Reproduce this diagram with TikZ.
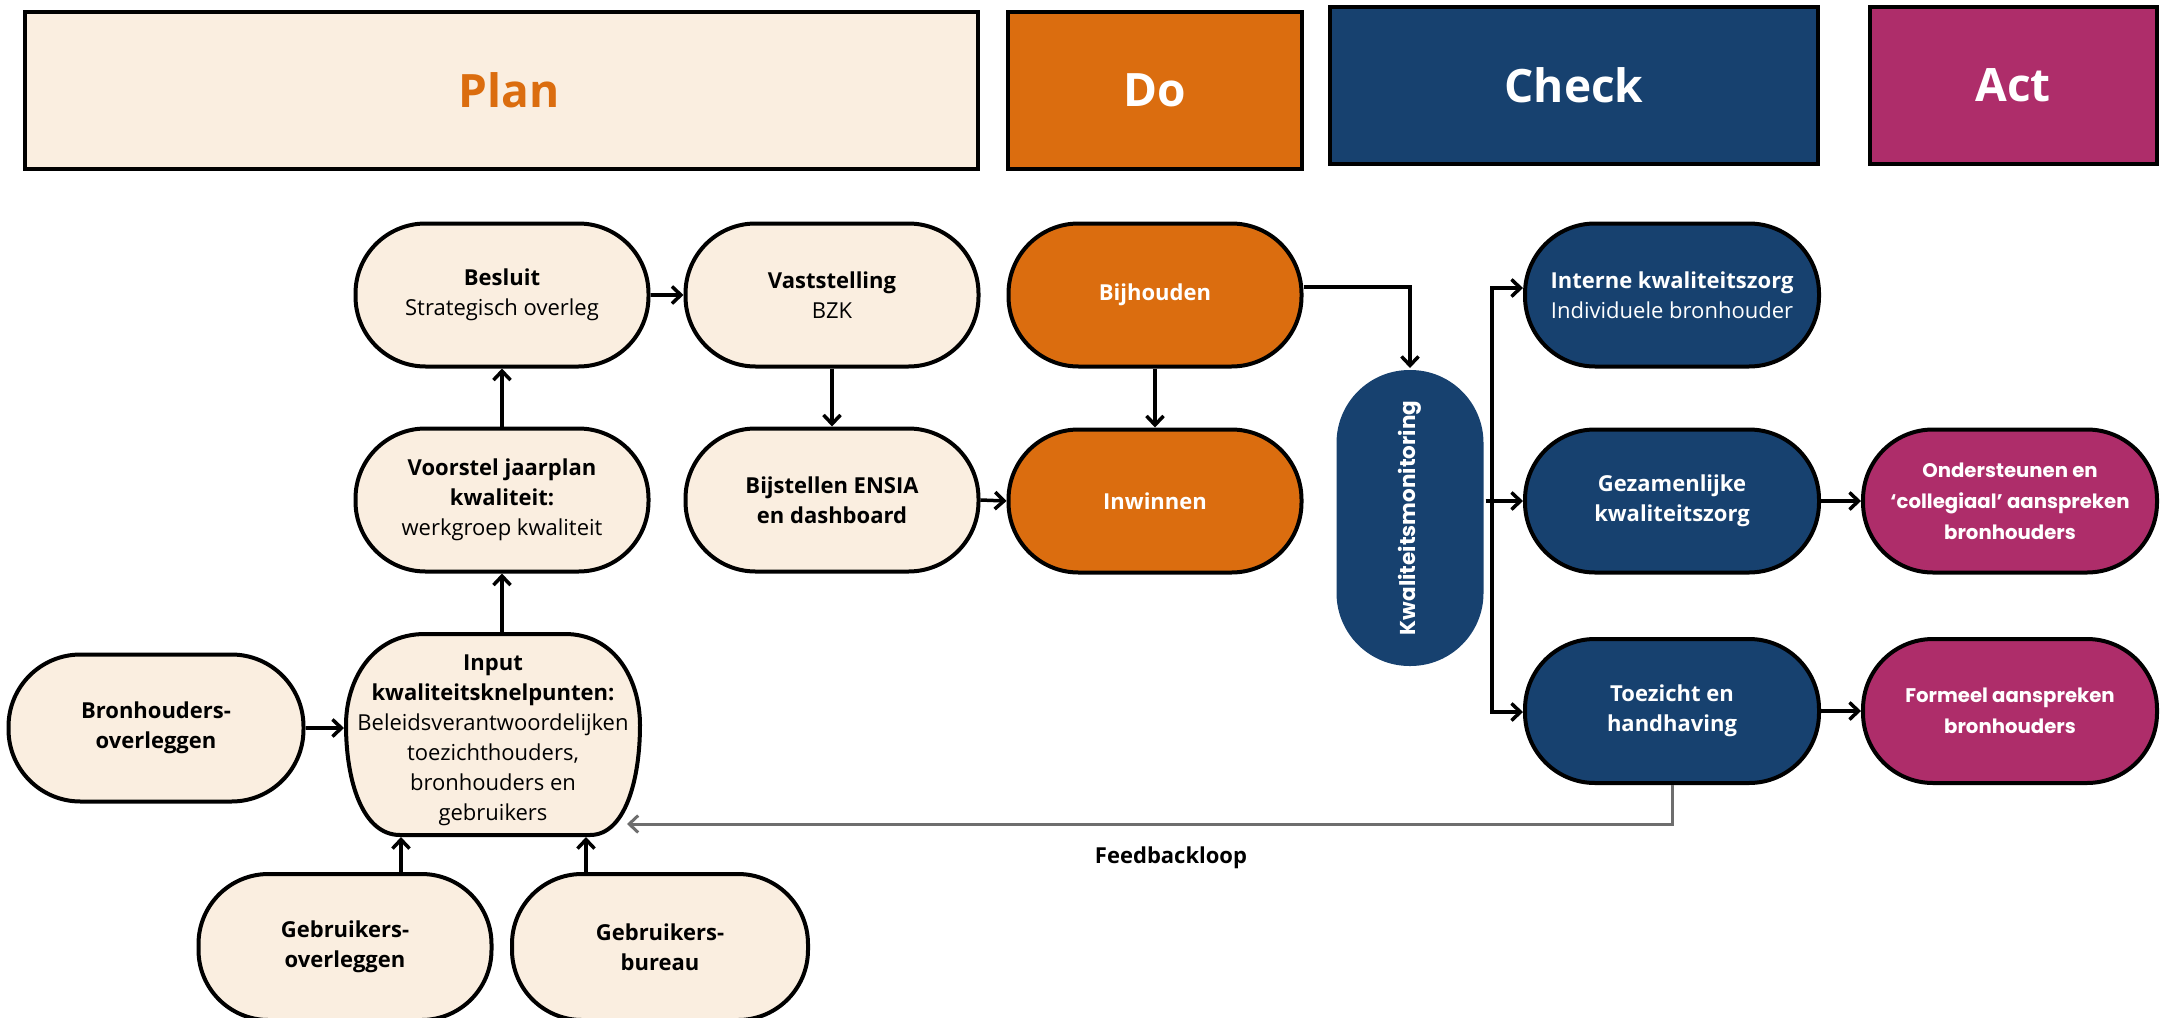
\documentclass[tikz,border=0pt]{standalone}
\usepackage{fontspec}
\setmainfont{Open Sans}
\newfontfamily\poppins{Poppins}
\usepackage{graphicx}
\usetikzlibrary{arrows.meta,calc}
\definecolor{cream}{HTML}{FAEEE0}
\definecolor{dorange}{HTML}{DB6D0F}
\definecolor{dblue}{HTML}{17416F}
\definecolor{mag}{HTML}{AE2D6A}
\definecolor{fbgray}{HTML}{6E6E6E}
\newcommand\nf{\fontsize{22pt}{30pt}\selectfont}
\newcommand\pf{\poppins\bfseries\fontsize{19.7pt}{31pt}\selectfont}
\begin{document}
\begin{tikzpicture}[x=1pt,y=-1pt,
 hdr/.style={draw=black,line width=4pt,inner sep=0pt,minimum height=157pt,font=\bfseries\fontsize{46pt}{50pt}\selectfont},
 pill/.style={draw=black,line width=4pt,rounded corners=70pt,minimum width=293pt,minimum height=143pt,inner sep=0pt,align=center,font=\nf},
 creamp/.style={pill,fill=cream,text=black},
 orangep/.style={pill,fill=dorange,text=white},
 bluep/.style={pill,fill=dblue,text=white},
 magp/.style={pill,fill=mag,text=white,font=\pf},
 arr/.style={line width=3.5pt,-{Straight Barb[length=9pt,width=17pt]}},
 fbarr/.style={draw=fbgray,line width=3pt,-{Straight Barb[length=9pt,width=17pt]}},
]
\useasboundingbox (0,0) rectangle (2165,1017);
\clip (0,0) rectangle (2165,1017);

% header
\node[hdr,fill=cream,text=dorange,minimum width=953pt] (hplan) at (501,90) {\hspace*{16pt}Plan};
\node[hdr,fill=dorange,text=white,minimum width=294pt] (hdo) at (1155,90) {Do};
\node[hdr,fill=dblue,text=white,minimum width=488pt] (hcheck) at (1574,85) {Check};
\node[hdr,fill=mag,text=white,minimum width=287pt] (hact) at (2013,85) {Act};

% plan nodes
\node[creamp] (besluit) at (502,295) {\textbf{Besluit}\\Strategisch overleg};
\node[creamp] (vast) at (832,295) {\textbf{Vaststelling}\\BZK};
\node[creamp] (voorstel) at (502,500) {\textbf{Voorstel jaarplan}\\\textbf{kwaliteit:}\\werkgroep kwaliteit};
\node[creamp] (bijst) at (832,500) {\textbf{Bijstellen ENSIA}\\\textbf{en dashboard}};
\node[creamp,minimum width=295pt,minimum height=147pt,rounded corners=72pt] (bron) at (156,728) {\textbf{Bronhouders-}\\\textbf{overleggen}};
\node[creamp,minimum height=146pt] (gebo) at (345,947) {\textbf{Gebruikers-}\\\textbf{overleggen}};
\node[creamp,minimum width=296pt,minimum height=146pt] (gebb) at (660,947) {\textbf{Gebruikers-}\\\textbf{bureau}};

% input (custom shape)
\draw[line width=4pt,fill=cream] (425,634) -- (565,634)
  .. controls (615,634) and (640,680) .. (640,725)
  .. controls (640,780) and (625,835) .. (590,835) -- (400,835)
  .. controls (362,835) and (346,780) .. (346,725)
  .. controls (346,680) and (372,634) .. (425,634) -- cycle;
\node[inner sep=0pt,outer sep=2pt,minimum width=294pt,minimum height=201pt] (input) at (493,734.5) {};
\node[inner sep=0pt,align=center,font=\nf] (inputtxt) at (493,740)
  {\textbf{Input}\\\textbf{kwaliteitsknelpunten:}\\Beleidsverantwoordelijken\\toezichthouders,\\bronhouders en\\gebruikers};

% do nodes
\node[orangep] (bijh) at (1155,295) {\textbf{Bijhouden}};
\node[orangep] (inw) at (1155,501) {\textbf{Inwinnen}};

% check nodes
\node[pill,draw=none,fill=dblue,text=white,minimum width=147pt,minimum height=296pt,rounded corners=73pt,font=\poppins\bfseries\fontsize{21.5pt}{26pt}\selectfont] (mon) at (1410,518) {\rotatebox{90}{Kwaliteitsmonitoring}};
\node[bluep,minimum width=294pt] (interne) at (1672,295) {\textbf{Interne kwaliteitszorg}\\Individuele bronhouder};
\node[bluep,minimum width=294pt] (gez) at (1672,501) {\textbf{Gezamenlijke}\\\textbf{kwaliteitszorg}};
\node[bluep,minimum width=294pt,minimum height=144pt] (toez) at (1672,711) {\textbf{Toezicht en}\\\textbf{handhaving}};

% act nodes
\node[magp,minimum width=294pt] (ond) at (2010,501) {Ondersteunen en\\‘collegiaal’ aanspreken\\bronhouders};
\node[magp,minimum width=294pt,minimum height=144pt] (form) at (2010,711) {Formeel aanspreken\\bronhouders};

% connectors
\draw[arr] (input.north -| voorstel.south) -- (voorstel.south);
\draw[arr] (voorstel.north) -- (besluit.south);
\draw[arr] (besluit.east) -- (vast.west);
\draw[arr] (vast.south) -- (bijst.north);
\draw[arr] (bijst.east) -- (inw.west);
\draw[arr] (bijh.south) -- (inw.north);
\draw[arr] ([yshift=8pt]bijh.east) -| (mon.north);
\coordinate (busT) at (1492,288);
\coordinate (busB) at (1492,712);
\draw[arr] (busB) |- (interne.west |- busT);
\draw[arr] (busT) |- (toez.west |- busB);
\draw[arr] (mon.east |- gez.west) -- (gez.west);
\draw[arr] (gez.east) -- (ond.west);
\draw[arr] (toez.east) -- (form.west);
\draw[arr] (bron.east) -- (bron.east -| input.west);
\draw[arr] ([xshift=56pt]gebo.north) -- ([xshift=56pt]gebo.north |- input.south);
\draw[arr] ([xshift=-74pt]gebb.north) -- ([xshift=-74pt]gebb.north |- input.south);

% feedback loop
\coordinate (fbend) at (627,824);
\draw[fbarr] (toez.south) |- (fbend);
\node[font=\nf\bfseries] (fbl) at (1171,858) {Feedbackloop};
\end{tikzpicture}
\end{document}
